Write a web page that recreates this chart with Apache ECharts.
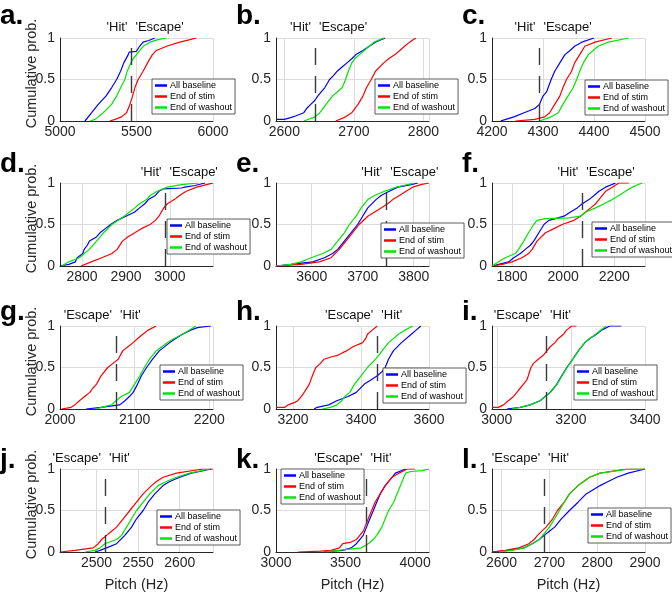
<!DOCTYPE html>
<html><head><meta charset="utf-8">
<script src="https://cdn.jsdelivr.net/npm/echarts@6.0.0/dist/echarts.min.js"></script>
<style>html,body{margin:0;padding:0;background:#fff}#c{width:672px;height:593px}</style>
</head><body><div id="c"></div>
<script>
// ---------- DATA (pitch in Hz, cumulative probability) ----------
const seriesNames = ['All baseline', 'End of stim', 'End of washout'];
const panelLetters = ['a.', 'b.', 'c.', 'd.', 'e.', 'f.', 'g.', 'h.', 'i.', 'j.', 'k.', 'l.'];

const aBase = [[5163,0],[5163,0.02],[5207,0.1],[5250,0.2],[5300,0.3],[5337,0.4],[5370,0.5],[5396,0.6],[5417,0.7],[5446,0.8],[5452,0.83],[5500,0.84],[5520,0.9],[5543,0.95],[5580,0.97],[5620,1]];
const aStim = [[5326,0],[5360,0.02],[5402,0.05],[5435,0.1],[5457,0.2],[5474,0.3],[5489,0.4],[5511,0.5],[5543,0.6],[5572,0.7],[5604,0.8],[5630,0.85],[5696,0.9],[5783,0.95],[5850,0.98],[5891,1]];
const aWash = [[5196,0],[5230,0.02],[5283,0.1],[5337,0.2],[5370,0.3],[5396,0.4],[5424,0.5],[5439,0.6],[5463,0.7],[5478,0.75],[5500,0.8],[5543,0.9],[5587,0.95],[5640,0.98],[5696,1]];

const bBase = [[2589,0.02],[2600,0.02],[2609,0.04],[2616,0.06],[2628,0.1],[2632,0.15],[2638,0.2],[2644,0.25],[2648,0.3],[2653,0.35],[2658,0.4],[2665,0.5],[2671,0.55],[2676,0.6],[2683,0.65],[2690,0.7],[2697,0.75],[2703,0.8],[2713,0.85],[2722,0.9],[2731,0.95],[2745,1]];
const bStim = [[2674,0],[2688,0.05],[2697,0.1],[2706,0.2],[2713,0.3],[2718,0.4],[2725,0.5],[2731,0.6],[2743,0.7],[2750,0.75],[2759,0.8],[2766,0.85],[2773,0.9],[2780,0.95],[2789,1]];
const bWash = [[2628,0],[2644,0.05],[2651,0.1],[2660,0.2],[2669,0.3],[2676,0.35],[2683,0.4],[2688,0.5],[2692,0.6],[2697,0.7],[2701,0.75],[2708,0.8],[2715,0.85],[2722,0.9],[2729,0.95],[2743,1]];

const cBase = [[4217,0],[4227,0.02],[4243,0.05],[4263,0.1],[4284,0.15],[4293,0.2],[4300,0.3],[4307,0.35],[4310,0.4],[4316,0.5],[4323,0.6],[4333,0.7],[4343,0.8],[4353,0.85],[4362,0.9],[4376,0.95],[4400,1]];
const cStim = [[4246,0],[4284,0.02],[4303,0.05],[4313,0.1],[4323,0.2],[4333,0.3],[4339,0.4],[4346,0.5],[4356,0.6],[4362,0.7],[4372,0.8],[4382,0.9],[4402,0.95],[4435,1]];
const cWash = [[4293,0],[4316,0.05],[4330,0.1],[4339,0.2],[4349,0.3],[4359,0.4],[4366,0.5],[4372,0.6],[4379,0.7],[4389,0.8],[4408,0.9],[4428,0.95],[4468,1]];

const dBase = [[2750,0],[2770,0.02],[2785,0.05],[2789,0.1],[2802,0.15],[2805,0.2],[2812,0.25],[2817,0.3],[2833,0.35],[2841,0.4],[2853,0.45],[2865,0.5],[2880,0.55],[2900,0.6],[2920,0.65],[2931,0.7],[2943,0.75],[2951,0.8],[2967,0.85],[2975,0.9],[2986,0.93],[3026,0.94],[3034,0.95],[3057,0.97],[3080,1]];
const dStim = [[2798,0],[2821,0.05],[2845,0.1],[2868,0.15],[2880,0.2],[2892,0.3],[2904,0.35],[2920,0.4],[2935,0.45],[2955,0.5],[2967,0.55],[2975,0.6],[2986,0.7],[2994,0.75],[3010,0.8],[3022,0.85],[3037,0.9],[3061,0.95],[3090,0.99],[3098,1]];
const dWash = [[2754,0],[2770,0.05],[2794,0.1],[2805,0.15],[2817,0.2],[2833,0.3],[2849,0.4],[2868,0.5],[2896,0.6],[2920,0.7],[2931,0.75],[2947,0.8],[2955,0.85],[2971,0.9],[2994,0.95],[3026,0.98],[3065,1]];

const eBase = [[3530,0],[3559,0.02],[3602,0.05],[3625,0.1],[3641,0.15],[3651,0.2],[3664,0.3],[3677,0.4],[3690,0.5],[3700,0.6],[3710,0.7],[3726,0.8],[3736,0.85],[3752,0.9],[3769,0.95],[3795,0.98],[3808,1]];
const eStim = [[3530,0],[3579,0.02],[3615,0.05],[3638,0.1],[3654,0.2],[3667,0.3],[3680,0.4],[3693,0.5],[3710,0.6],[3736,0.7],[3749,0.75],[3759,0.8],[3772,0.85],[3785,0.9],[3798,0.95],[3814,0.98],[3830,1]];
const eWash = [[3530,0],[3559,0.02],[3579,0.05],[3599,0.1],[3622,0.15],[3638,0.2],[3651,0.3],[3664,0.4],[3674,0.5],[3687,0.6],[3697,0.7],[3710,0.8],[3723,0.85],[3743,0.9],[3766,0.95],[3801,1]];

const fBase = [[1722,0],[1748,0.02],[1787,0.05],[1807,0.1],[1833,0.15],[1852,0.2],[1872,0.25],[1885,0.3],[1905,0.4],[1925,0.5],[1944,0.55],[1970,0.57],[2003,0.6],[2029,0.65],[2055,0.7],[2075,0.75],[2101,0.8],[2121,0.85],[2140,0.9],[2166,0.95],[2205,1]];
const fStim = [[1722,0],[1761,0.02],[1800,0.05],[1839,0.1],[1865,0.15],[1879,0.2],[1898,0.3],[1931,0.4],[1964,0.45],[1996,0.5],[2042,0.55],[2068,0.6],[2088,0.65],[2108,0.7],[2127,0.75],[2140,0.8],[2153,0.85],[2166,0.9],[2192,0.95],[2218,1],[2257,1]];
const fWash = [[1722,0],[1748,0.05],[1774,0.1],[1813,0.15],[1826,0.2],[1846,0.3],[1865,0.4],[1885,0.5],[1898,0.55],[1931,0.57],[2023,0.58],[2068,0.6],[2088,0.65],[2127,0.7],[2160,0.75],[2192,0.8],[2218,0.85],[2244,0.9],[2270,0.95],[2309,1]];

const gBase = [[2035,0],[2055,0.02],[2080,0.05],[2087,0.1],[2093,0.15],[2098,0.2],[2104,0.3],[2109,0.4],[2116,0.5],[2124,0.6],[2133,0.7],[2147,0.8],[2155,0.85],[2164,0.9],[2175,0.95],[2184,0.98],[2202,1]];
const gStim = [[2002,0],[2015,0.02],[2020,0.05],[2026,0.1],[2033,0.15],[2040,0.2],[2044,0.25],[2049,0.3],[2055,0.4],[2064,0.5],[2071,0.55],[2078,0.6],[2084,0.7],[2091,0.75],[2098,0.8],[2104,0.85],[2111,0.9],[2118,0.95],[2129,1]];
const gWash = [[2049,0],[2055,0.02],[2069,0.05],[2075,0.1],[2082,0.15],[2093,0.2],[2100,0.3],[2107,0.4],[2113,0.5],[2120,0.6],[2129,0.7],[2144,0.8],[2153,0.85],[2164,0.9],[2173,0.95],[2182,1]];

const hBase = [[3262,0],[3271,0.02],[3305,0.05],[3329,0.1],[3362,0.15],[3386,0.2],[3410,0.3],[3429,0.35],[3448,0.4],[3462,0.45],[3471,0.5],[3481,0.6],[3495,0.7],[3519,0.8],[3548,0.9],[3562,0.95],[3576,1]];
const hStim = [[3150,0.02],[3176,0.02],[3186,0.05],[3205,0.08],[3214,0.1],[3224,0.15],[3233,0.2],[3248,0.3],[3257,0.4],[3267,0.5],[3281,0.55],[3291,0.6],[3314,0.63],[3333,0.65],[3357,0.7],[3376,0.75],[3405,0.8],[3414,0.85],[3419,0.9],[3433,0.95],[3448,1]];
const hWash = [[3286,0],[3310,0.02],[3329,0.05],[3343,0.1],[3352,0.15],[3367,0.2],[3381,0.3],[3400,0.4],[3419,0.5],[3443,0.6],[3462,0.7],[3481,0.8],[3510,0.9],[3529,0.95],[3552,1]];

const iBase = [[3027,0],[3063,0.02],[3090,0.05],[3117,0.1],[3130,0.15],[3144,0.2],[3162,0.3],[3175,0.4],[3189,0.5],[3205,0.6],[3220,0.7],[3238,0.8],[3251,0.85],[3269,0.9],[3283,0.95],[3305,1],[3336,1]];
const iStim = [[2987,0.02],[3004,0.02],[3018,0.05],[3031,0.1],[3045,0.15],[3054,0.2],[3063,0.25],[3072,0.3],[3081,0.35],[3085,0.4],[3092,0.5],[3099,0.55],[3112,0.6],[3126,0.65],[3135,0.7],[3144,0.75],[3157,0.8],[3166,0.85],[3180,0.9],[3188,0.95],[3202,1],[3215,1]];
const iWash = [[3040,0],[3063,0.02],[3090,0.05],[3117,0.1],[3131,0.15],[3145,0.2],[3163,0.3],[3176,0.4],[3190,0.5],[3205,0.6],[3220,0.7],[3237,0.8],[3250,0.85],[3267,0.9],[3280,0.95],[3296,1]];

const jBase = [[2498,0],[2504,0.02],[2512,0.05],[2524,0.1],[2534,0.2],[2542,0.3],[2548,0.4],[2556,0.5],[2562,0.6],[2570,0.7],[2580,0.8],[2588,0.85],[2600,0.9],[2614,0.95],[2638,1]];
const jStim = [[2456,0],[2474,0.02],[2496,0.05],[2502,0.1],[2506,0.15],[2512,0.2],[2518,0.25],[2524,0.3],[2532,0.4],[2540,0.5],[2548,0.6],[2556,0.7],[2566,0.8],[2572,0.85],[2580,0.9],[2596,0.95],[2628,1],[2640,1]];
const jWash = [[2486,0],[2498,0.02],[2504,0.05],[2510,0.1],[2524,0.15],[2530,0.2],[2536,0.3],[2542,0.4],[2548,0.5],[2556,0.6],[2564,0.7],[2574,0.8],[2584,0.85],[2596,0.9],[2612,0.95],[2636,1]];

const kBase = [[3344,0],[3480,0.02],[3541,0.05],[3578,0.1],[3602,0.15],[3627,0.2],[3651,0.3],[3675,0.4],[3700,0.5],[3724,0.6],[3749,0.7],[3785,0.8],[3834,0.9],[3858,0.95],[3932,1]];
const kStim = [[3160,0],[3320,0.01],[3395,0.02],[3456,0.05],[3480,0.1],[3541,0.12],[3578,0.15],[3602,0.2],[3627,0.25],[3639,0.3],[3663,0.4],[3688,0.5],[3712,0.6],[3749,0.7],[3785,0.8],[3834,0.9],[3883,0.95],[3944,1],[4000,1]];
const kWash = [[3356,0],[3444,0.02],[3614,0.05],[3663,0.1],[3700,0.15],[3724,0.2],[3761,0.3],[3785,0.4],[3810,0.5],[3846,0.6],[3870,0.7],[3895,0.8],[3919,0.9],[3932,0.95],[3968,0.97],[4054,0.98],[4100,1]];

const lBase = [[2580,0],[2612,0.02],[2647,0.05],[2664,0.1],[2679,0.15],[2689,0.2],[2700,0.25],[2711,0.3],[2725,0.4],[2742,0.5],[2760,0.6],[2777,0.7],[2806,0.8],[2823,0.85],[2841,0.9],[2865,0.95],[2900,1]];
const lStim = [[2580,0],[2608,0.02],[2636,0.05],[2657,0.1],[2668,0.15],[2675,0.2],[2693,0.3],[2707,0.4],[2717,0.5],[2731,0.6],[2742,0.7],[2760,0.8],[2784,0.9],[2806,0.95],[2862,1],[2900,1]];
const lWash = [[2594,0],[2622,0.02],[2647,0.05],[2664,0.1],[2679,0.15],[2686,0.2],[2700,0.3],[2711,0.4],[2721,0.5],[2731,0.6],[2742,0.7],[2760,0.8],[2784,0.9],[2806,0.95],[2869,1],[2900,1]];

// boundary pitch between 'Hit' and 'Escape' per panel
const boundaryPitch = [5467, 2644, 4293, 2990, 3746, 2075, 2075, 3448, 3133, 2510, 3651, 2689];
const boundaryLabels = [["'Hit'", "'Escape'"], ["'Escape'", "'Hit'"]];
// axis ranges and tick steps
const xRanges = [[5000,6000],[2588,2808],[4200,4500],[2750,3098],[3530,3830],[1722,2320],[2000,2205],[3150,3600],[2987,3400],[2456,2640],[3000,4100],[2580,2900]];
const xTickSteps = [500, 100, 100, 100, 100, 200, 100, 200, 200, 50, 500, 100];
const yTicks = [0, 0.5, 1];

const panelData = [
  [aBase, aStim, aWash], [bBase, bStim, bWash], [cBase, cStim, cWash],
  [dBase, dStim, dWash], [eBase, eStim, eWash], [fBase, fStim, fWash],
  [gBase, gStim, gWash], [hBase, hStim, hWash], [iBase, iStim, iWash],
  [jBase, jStim, jWash], [kBase, kStim, kWash], [lBase, lStim, lWash]
];

// ---------- LAYOUT / STYLE ----------
const FONT = '"Liberation Sans", Arial, Helvetica, sans-serif';
const colors = ['#0000ff', '#ff0000', '#00e600'];
const colLeft = [60, 276, 492];
const rowTop = [38, 183, 326, 469];
const plotW = 153, plotH = 83;
const legendPos = [[152,79],[375,79],[585,80],[167,219],[381,223],[592,222],[160,365],[383,368],[574,365],[157,510],[281,469],[588,508]];
const letterTop = [2, 150, 298, 446];
const letterLeft = [0, 236, 462];

const grid = [], xAxis = [], yAxis = [], series = [], legend = [], title = [];

panelData.forEach((sets, i) => {
  const r = Math.floor(i / 3), c = i % 3;
  const step = xTickSteps[i];
  grid.push({ left: colLeft[c], top: rowTop[r], width: plotW, height: plotH, containLabel: false, outerBoundsMode: 'none' });
  xAxis.push({
    type: 'value', gridIndex: i, min: xRanges[i][0], max: xRanges[i][1],
    splitNumber: 3, minInterval: step, maxInterval: step,
    axisLine: { show: true, onZero: false, lineStyle: { color: '#262626', width: 1 } },
    axisTick: { show: false },
    axisLabel: {
      fontSize: 14, color: '#262626', fontFamily: FONT, margin: 4,
      formatter: v => (Math.abs(v / step - Math.round(v / step)) < 1e-6 ? String(v) : '')
    },
    splitLine: { show: true, lineStyle: { color: '#dcdcdc', width: 1 } },
    name: r === 3 ? 'Pitch (Hz)' : '', nameLocation: 'middle', nameGap: 25,
    nameTextStyle: { fontSize: 14.5, color: '#262626', fontFamily: FONT }
  });
  yAxis.push({
    type: 'value', gridIndex: i, min: yTicks[0], max: yTicks[2], interval: yTicks[1] - yTicks[0],
    axisLine: { show: true, lineStyle: { color: '#262626', width: 1 } },
    axisTick: { show: false },
    axisLabel: { fontSize: 14, color: '#262626', fontFamily: FONT, margin: 5 },
    splitLine: { show: true, lineStyle: { color: '#dcdcdc', width: 1 } },
    name: c === 0 ? 'Cumulative prob.' : '', nameLocation: 'middle', nameGap: 21, nameMoveOverlap: false,
    nameTextStyle: { fontSize: 14.5, color: '#262626', fontFamily: FONT, padding: [0, 0, 0, 12] }
  });
  const labs = boundaryLabels[r < 2 ? 0 : 1];
  sets.forEach((d, k) => {
    const s = {
      type: 'line', name: seriesNames[k], xAxisIndex: i, yAxisIndex: i, data: d,
      symbol: 'none', showSymbol: false, animation: false, silent: true,
      lineStyle: { color: colors[k], width: 1.2 }, itemStyle: { color: colors[k] }, z: 2 + k
    };
    if (k === 2) {
      s.markLine = {
        silent: true, animation: false, symbol: ['none', 'none'],
        lineStyle: { color: '#3a3a3a', width: 1.4, type: [17, 11] },
        label: { show: false },
        data: [[{ coord: [boundaryPitch[i], 0] }, { coord: [boundaryPitch[i], 1] }]]
      };
      s.markPoint = {
        silent: true, animation: false, symbol: 'rect', symbolSize: 0,
        data: [
          { coord: [boundaryPitch[i], 1], label: { show: true, formatter: labs[0], position: 'left', distance: 4, offset: [0, -11], fontSize: 13, color: '#111', fontFamily: FONT } },
          { coord: [boundaryPitch[i], 1], label: { show: true, formatter: labs[1], position: 'right', distance: 4, offset: [0, -11], fontSize: 13, color: '#111', fontFamily: FONT } }
        ]
      };
    }
    series.push(s);
  });
  legend.push({
    data: seriesNames, orient: 'vertical', left: legendPos[i][0], top: legendPos[i][1],
    icon: 'rect', itemWidth: 12, itemHeight: 2.5, itemGap: 2, padding: [2, 3, 2, 3],
    backgroundColor: '#fff', borderColor: '#333', borderWidth: 0.8, borderRadius: 0,
    selectedMode: false, z: 10,
    textStyle: { fontSize: 9, color: '#000', fontFamily: FONT, padding: [0, 0, 0, -2] }
  });
  title.push({
    text: panelLetters[i], left: letterLeft[c], top: letterTop[r], padding: 0,
    textStyle: { fontSize: 28, fontWeight: 'bold', color: '#000', fontFamily: FONT }
  });
});

const chart = echarts.init(document.getElementById('c'), null, { renderer: 'canvas' });
chart.setOption({ animation: false, backgroundColor: '#fff', title, grid, xAxis, yAxis, legend, series });
</script>
</body></html>
